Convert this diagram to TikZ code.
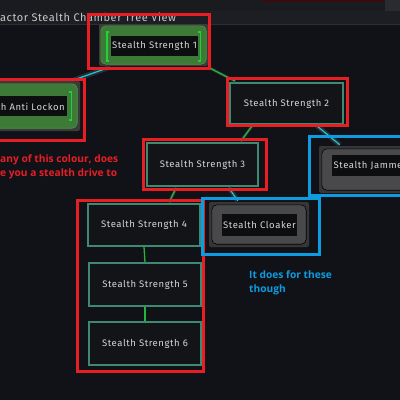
\documentclass[tikz,border=0pt]{standalone}
\usepackage{fontspec}
\setmainfont{Fira Sans}
\newfontfamily\annfont{Open Sans}
\newfontfamily\uifont[LetterSpace=6]{Fira Sans}
\newfontfamily\titlefont[LetterSpace=5]{Fira Sans}
\usetikzlibrary{calc}
\definecolor{bg}{HTML}{111217}
\definecolor{topstrip}{HTML}{1A1B1F}
\definecolor{titlebar}{HTML}{1D1E23}
\definecolor{darkred}{HTML}{3A0A0E}
\definecolor{cornergrey}{HTML}{2A2B30}
\definecolor{barline}{HTML}{2D2E34}
\definecolor{titletxt}{HTML}{C8C8C8}
\definecolor{hlred}{HTML}{E81E25}
\definecolor{hlblue}{HTML}{0E9BE0}
\definecolor{tealedge}{HTML}{3F8872}
\definecolor{nodefill}{HTML}{131418}
\definecolor{gframe}{HTML}{3A3C3A}
\definecolor{gfill}{HTML}{3E7A37}
\definecolor{gedge}{HTML}{509646}
\definecolor{gbright}{HTML}{22D03A}
\definecolor{greyout}{HTML}{363638}
\definecolor{greyin}{HTML}{49494B}
\definecolor{labelbg}{HTML}{0D0E10}
\definecolor{txt}{HTML}{D6D6D6}
\definecolor{linkgreen}{HTML}{1FB83A}
\definecolor{linkcyan}{HTML}{1CC8D8}
\definecolor{linkshadow}{HTML}{2A2D34}
\tikzset{
  hlbox/.style={line width=3pt},
  nodetext/.style={text=txt, font=\uifont\fontsize{9.5}{11}\selectfont},
  tealnode/.style={draw=tealedge, line width=1.6pt, fill=nodefill, nodetext, inner sep=0pt},
  outernode/.style={inner sep=0pt, rounded corners=2pt},
  labelnode/.style={fill=labelbg, nodetext, inner sep=0pt},
  greenlink/.style={line width=1.3pt, linkgreen},
  cyanlink/.style={line width=1.2pt, linkcyan},
  linkbed/.style={line width=5pt, linkshadow},
  ann/.style={font=\annfont\bfseries\fontsize{10.2}{14}\selectfont, align=left, inner sep=0pt},
}
\begin{document}
\begin{tikzpicture}[x=1pt,y=-1pt]
\useasboundingbox (0,0) rectangle (400,400);
\clip (0,0) rectangle (400,400);
\fill[bg] (0,0) rectangle (400,400);
% top strips
\fill[topstrip] (0,0) rectangle (400,11);
\fill[darkred] (262,0) rectangle (385,2);
\fill[cornergrey] (385,0) rectangle (400,11);
\fill[titlebar] (0,11) rectangle (400,24);
\draw[barline, line width=0.8pt] (0,24) -- (400,24);
\node[anchor=west, text=titletxt, font=\titlefont\fontsize{11}{12}\selectfont, inner sep=0pt] (title) at (0,17) {actor Stealth Chamber Tree View};

% ---------- nodes ----------
% Stealth Strength 1 (green)
\node[outernode, fill=gframe, minimum width=109pt, minimum height=42pt] (ss1) at (153.5,45) {};
\fill[gfill, draw=gedge, line width=0.6pt, rounded corners=5pt]
  ($(ss1.north west)+(2,2)$) rectangle ($(ss1.south east)+(-2,-2)$);
\node[labelnode, minimum width=87pt, minimum height=20pt] (ss1l) at (154.5,46) {Stealth Strength 1};
\draw[gbright, line width=1.4pt] ($(ss1.north west)+(10,8)$) -- ++(-2,0) -- ++(0,29) -- ++(2,0);
\draw[gbright, line width=1.4pt] ($(ss1.north east)+(-10,8)$) -- ++(2,0) -- ++(0,29) -- ++(-2,0);

% Anti Lockon (green, clipped)
\node[outernode, fill=gframe, minimum width=120pt, minimum height=50pt] (al) at (20,106) {};
\fill[gfill, draw=gedge, line width=0.6pt, rounded corners=5pt]
  ($(al.north west)+(2,3)$) rectangle ($(al.south east)+(-3,-3)$);
\fill[labelbg] (-30,96) rectangle (67,116);
\node[anchor=east, nodetext, inner sep=0pt] (all) at (65,106.5) {th Anti Lockon};
\draw[gbright, line width=1.4pt] ($(al.north east)+(-11,11)$) -- ++(2,0) -- ++(0,28) -- ++(-2,0);

% teal nodes
\node[tealnode, minimum width=113pt, minimum height=41pt] (ss2) at (286.5,103.5) {Stealth Strength 2};
\node[tealnode, minimum width=111pt, minimum height=43pt] (ss3) at (202.5,164.5) {Stealth Strength 3};
\node[tealnode, minimum width=112pt, minimum height=42pt] (ss4) at (144,225) {Stealth Strength 4};
\node[tealnode, minimum width=112pt, minimum height=43pt] (ss5) at (145,284.5) {Stealth Strength 5};
\node[tealnode, minimum width=112pt, minimum height=43pt] (ss6) at (145,343.5) {Stealth Strength 6};

% Stealth Jammer (grey, clipped)
\node[outernode, fill=greyout, minimum width=101pt, minimum height=47pt] (jam) at (369.5,169.5) {};
\fill[greyin, draw=black, line width=0.6pt, rounded corners=5pt]
  ($(jam.north west)+(3,3)$) rectangle ($(jam.south east)+(-3,-3)$);
\fill[labelbg] (332,155) rectangle (430,176);
\node[anchor=west, nodetext, inner sep=0pt] (jaml) at (333.5,166) {Stealth Jamme};

% Stealth Cloaker (grey)
\node[outernode, fill=greyout, minimum width=100pt, minimum height=45pt] (cl) at (259,224.5) {};
\fill[greyin, draw=black, line width=0.6pt, rounded corners=5pt]
  ($(cl.north west)+(3,3)$) rectangle ($(cl.south east)+(-3,-3)$);
\node[labelnode, minimum width=75pt, minimum height=22pt] (cll) at (259.5,225) {Stealth Cloaker};

% ---------- connectors ----------
\draw[linkbed] ($(ss1.south west)+(11,1)$) -- ($(al.north east)+(-6,-1)$);
\draw[cyanlink] ($(ss1.south west)+(11,1)$) -- ($(al.north east)+(-6,-1)$);
\draw[linkbed, line width=3pt] ($(ss1.south east)+(0,1)$) -- ($(ss2.north west)+(6,-1)$);
\draw[greenlink] ($(ss1.south east)+(0,1)$) -- ($(ss2.north west)+(6,-1)$);
\draw[linkbed, line width=3pt] ($(ss2.south west)+(23,1)$) -- ($(ss3.north east)+(-18,-1)$);
\draw[greenlink] ($(ss2.south west)+(23,1)$) -- ($(ss3.north east)+(-18,-1)$);
\draw[linkbed] ($(ss2.south east)+(-27,1)$) -- ($(jam.north west)+(21,-1)$);
\draw[cyanlink] ($(ss2.south east)+(-27,1)$) -- ($(jam.north west)+(21,-1)$);
\draw[linkbed, line width=3pt] ($(ss3.south west)+(30,1)$) -- ($(ss4.north west)+(82,-1)$);
\draw[greenlink] ($(ss3.south west)+(30,1)$) -- ($(ss4.north west)+(82,-1)$);
\draw[linkbed] ($(ss3.south east)+(-30,1)$) -- ($(cl.north west)+(29,-1)$);
\draw[cyanlink] ($(ss3.south east)+(-30,1)$) -- ($(cl.north west)+(29,-1)$);
\draw[greenlink] (ss4.south) -- (ss5.north);
\draw[greenlink] (ss5.south) -- (ss6.north);

% ---------- highlight boxes ----------
\draw[hlbox, hlred] (88.5,14.5) rectangle (209,68);
\draw[hlbox, hlred] (-5,79.5) rectangle (84.5,140.5);
\draw[hlbox, hlred] (227.5,78.5) rectangle (347.5,125.5);
\draw[hlbox, hlred] (143.5,139.5) rectangle (266.5,189.5);
\draw[hlbox, hlred] (77.5,200.5) rectangle (203.5,371.5);
\draw[hlbox, hlblue] (309.5,136.5) rectangle (410,195.5);
\draw[hlbox, hlblue] (202,198.5) rectangle (319.5,254.5);

% ---------- annotations ----------
\node[ann, text=hlred, anchor=north west] (redtext) at (0,154.5) {any of this colour, does\\e you a stealth drive to};
\node[ann, text=hlblue, anchor=north west] (bluetext) at (249,270.5) {It does for these\\though};
\end{tikzpicture}
\end{document}
